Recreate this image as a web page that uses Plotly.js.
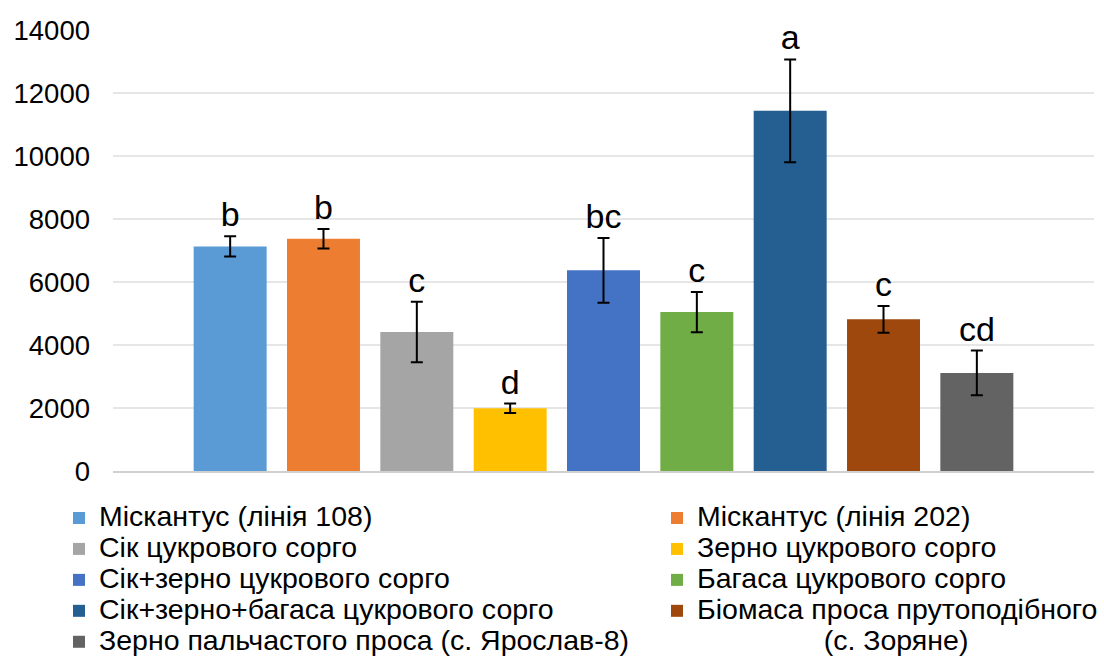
<!DOCTYPE html>
<html>
<head>
<meta charset="utf-8">
<script src="https://cdn.plot.ly/plotly-3.0.1.min.js"></script>
<style>
  html, body { margin: 0; padding: 0; background: #fff; }
  #chart { width: 1104px; height: 657px; }
</style>
</head>
<body>
<div id="chart"></div>
<script>
// ---- data ----
const seriesNames = [
  "Міскантус (лінія 108)",
  "Міскантус (лінія 202)",
  "Сік цукрового сорго",
  "Зерно цукрового сорго",
  "Сік+зерно цукрового сорго",
  "Багаса цукрового сорго",
  "Сік+зерно+багаса цукрового сорго",
  "Біомаса проса прутоподібного",
  "Зерно пальчастого проса (с. Ярослав-8)"
];
const nameSecondLine = ["", "", "", "", "", "", "", "(с. Зоряне)", ""];
const values = [7130, 7370, 4410, 1990, 6370, 5045, 11435, 4815, 3115];
const errors = [320, 310, 960, 150, 1025, 640, 1630, 425, 710];
const letters = ["b", "b", "c", "d", "bc", "c", "a", "c", "cd"];
const colors = ["#5B9BD5", "#ED7D31", "#A5A5A5", "#FFC000", "#4472C4",
                "#70AD47", "#255E91", "#9E480E", "#636363"];
const category = ["Вихід"];
const yTicks = [0, 2000, 4000, 6000, 8000, 10000, 12000, 14000];

const FONT = "Liberation Sans, Arial, sans-serif";
const big = s => '<span style="font-size:28.5px">' + s + '</span>';
const bigLow = s => '<span style="font-size:28.5px;baseline-shift:-3px">' + s + '</span>';
const pad = n => "\u00a0".repeat(n);

const traces = [];
seriesNames.forEach((nm, i) => {
  let label = big(nm);
  if (nameSecondLine[i]) label += "<br>" + bigLow(pad(16) + nameSecondLine[i]);
  traces.push({
    type: "bar",
    x: category,
    y: [values[i]],
    name: label,
    offsetgroup: "g" + i,
    legend: (i % 2 === 0) ? "legend" : "legend2",
    marker: { color: colors[i], line: { width: 0 } },
    error_y: { type: "data", array: [errors[i]], visible: true,
               color: "#000000", thickness: 2, width: 6 },
    hoverinfo: "skip"
  });
});
// letters above error bars: transparent bars in same slot reaching mean+error
seriesNames.forEach((nm, i) => {
  traces.push({
    type: "bar",
    x: category,
    y: [values[i] + errors[i]],
    offsetgroup: "g" + i,
    showlegend: false,
    marker: { color: "rgba(0,0,0,0)", line: { width: 0 } },
    text: [letters[i]],
    textposition: "outside",
    constraintext: "none",
    cliponaxis: false,
    outsidetextfont: { family: FONT, size: 34, color: "#000000" },
    hoverinfo: "skip"
  });
});

const legendCommon = {
  xanchor: "left",
  y: (471 - 497.5) / 441,
  yanchor: "top",
  orientation: "v",
  font: { family: FONT, size: 21.5, color: "#000000" },
  bgcolor: "rgba(0,0,0,0)",
  borderwidth: 0,
  traceorder: "normal",
  valign: "top"
};

const layout = {
  width: 1104,
  height: 657,
  paper_bgcolor: "#ffffff",
  plot_bgcolor: "#ffffff",
  margin: { l: 113, r: 10, t: 30, b: 186, autoexpand: false },
  barmode: "group",
  bargap: 0.1437,
  bargroupgap: 0.218,
  font: { family: FONT, color: "#000000" },
  showlegend: true,
  xaxis: {
    showticklabels: false,
    ticks: "",
    showgrid: false,
    showline: true,
    linecolor: "#d0d0d0",
    linewidth: 2,
    zeroline: false,
    fixedrange: true
  },
  yaxis: {
    range: [0, 14000],
    tickvals: yTicks,
    ticktext: yTicks.map(String),
    showgrid: true,
    gridcolor: "#e6e6e6",
    gridwidth: 1.5,
    zeroline: false,
    showline: false,
    ticks: "",
    ticklabelstandoff: 22,
    tickfont: { family: FONT, size: 27.5, color: "#000000" },
    fixedrange: true
  },
  legend: Object.assign({}, legendCommon, { x: (59 - 113) / 981 }),
  legend2: Object.assign({}, legendCommon, { x: (657 - 113) / 981 })
};

Plotly.newPlot("chart", traces, layout, { displayModeBar: false, staticPlot: true });
</script>
</body>
</html>
